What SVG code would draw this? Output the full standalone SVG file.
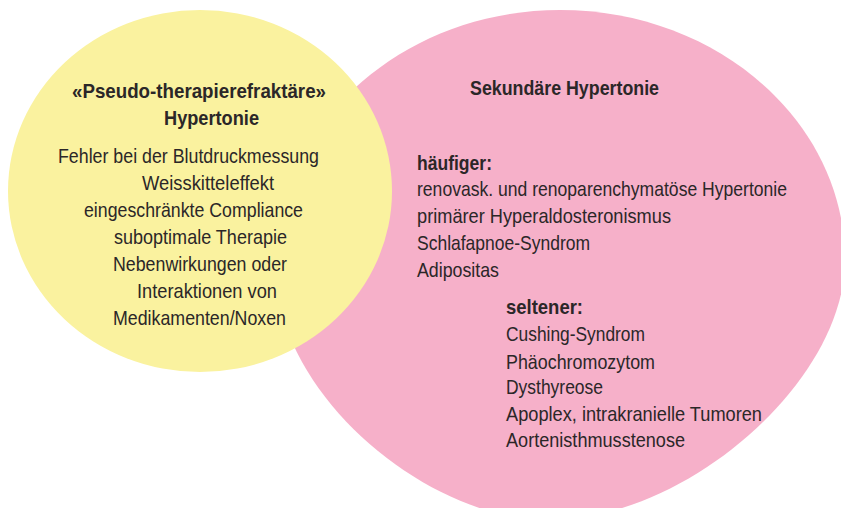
<svg xmlns="http://www.w3.org/2000/svg" width="841" height="508" viewBox="0 0 841 508">
<style>
text{font-family:"Liberation Sans","DejaVu Sans",sans-serif;font-size:21px;fill:#2b2728}
.b{font-weight:bold}
</style>
<rect width="841" height="508" fill="#ffffff"/>
<g id="sekundaer">
<path fill="#f6b0c9" d="M560,10 C717.4,10 845,121.9 845,260 C845,380 688,520 548,520 C428,520 275,395 275,265 C275,124.2 402.6,10 560,10 Z"/>
</g>
<g id="pseudo">
<ellipse cx="200" cy="191" rx="192" ry="181" fill="#faf29f"/>
<text class="b" x="72" y="98" textLength="254" lengthAdjust="spacingAndGlyphs">«Pseudo-therapierefraktäre»</text>
<text class="b" x="164" y="125" textLength="95" lengthAdjust="spacingAndGlyphs">Hypertonie</text>
<text x="58" y="163" textLength="261" lengthAdjust="spacingAndGlyphs">Fehler bei der Blutdruckmessung</text>
<text x="142" y="190" textLength="132" lengthAdjust="spacingAndGlyphs">Weisskitteleffekt</text>
<text x="84" y="217" textLength="219" lengthAdjust="spacingAndGlyphs">eingeschränkte Compliance</text>
<text x="114" y="244" textLength="173" lengthAdjust="spacingAndGlyphs">suboptimale Therapie</text>
<text x="113" y="271" textLength="174" lengthAdjust="spacingAndGlyphs">Nebenwirkungen oder</text>
<text x="137" y="298" textLength="140" lengthAdjust="spacingAndGlyphs">Interaktionen von</text>
<text x="113" y="325" textLength="173" lengthAdjust="spacingAndGlyphs">Medikamenten/Noxen</text>
</g>
<g id="sekundaer-text">
<text class="b" x="470" y="95" textLength="189" lengthAdjust="spacingAndGlyphs">Sekundäre Hypertonie</text>
<text class="b" x="417" y="170" textLength="75" lengthAdjust="spacingAndGlyphs">häufiger:</text>
<text x="417" y="196" textLength="370" lengthAdjust="spacingAndGlyphs">renovask. und renoparenchymatöse Hypertonie</text>
<text x="417" y="223" textLength="254" lengthAdjust="spacingAndGlyphs">primärer Hyperaldosteronismus</text>
<text x="417" y="250" textLength="173" lengthAdjust="spacingAndGlyphs">Schlafapnoe-Syndrom</text>
<text x="417" y="277" textLength="82" lengthAdjust="spacingAndGlyphs">Adipositas</text>
<text class="b" x="506" y="314" textLength="77" lengthAdjust="spacingAndGlyphs">seltener:</text>
<text x="506" y="341" textLength="139" lengthAdjust="spacingAndGlyphs">Cushing-Syndrom</text>
<text x="506" y="369" textLength="149" lengthAdjust="spacingAndGlyphs">Phäochromozytom</text>
<text x="506" y="394" textLength="97" lengthAdjust="spacingAndGlyphs">Dysthyreose</text>
<text x="506" y="421" textLength="256" lengthAdjust="spacingAndGlyphs">Apoplex, intrakranielle Tumoren</text>
<text x="506" y="447" textLength="179" lengthAdjust="spacingAndGlyphs">Aortenisthmusstenose</text>
</g>
<g id="connectors"></g>
</svg>
